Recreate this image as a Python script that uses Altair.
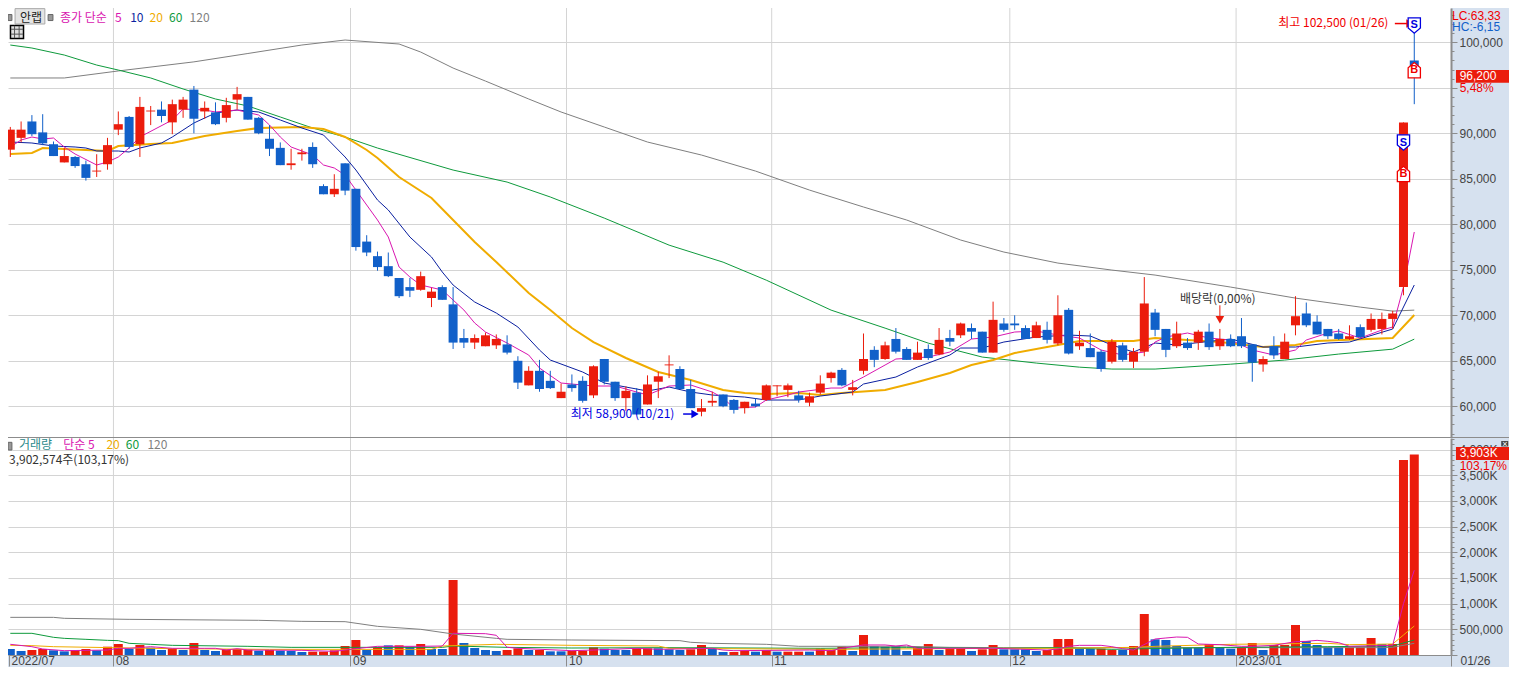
import altair as alt
import pandas as pd

# candles, one per trading day (index 0 = first day of the window)
opens = [88200,89500,91300,90100,88800,86800,87400,86600,85800,86600,
         90400,91800,88800,92400,92600,91200,92600,94800,92400,92300,
         91700,93700,94000,91700,89400,88400,86500,87700,88500,84200,
         83300,86700,83900,78100,76500,75400,74100,73100,72800,71900,
         73100,71200,67500,67000,66600,66700,66800,65000,62300,63900,
         62800,60900,62400,62800,61200,65200,62700,60900,61500,60200,
         62700,64500,64100,61900,59400,60400,61300,60700,59800,60300,
         60700,62200,61800,61200,60400,61500,63100,64000,61800,63900,
         66200,65200,67400,66300,65100,66300,65700,67500,67800,68600,
         68200,65900,69100,69100,68600,67500,68400,66900,70600,66600,
         66400,66000,64900,66700,64900,66000,70300,68500,66600,67000,
         67000,68200,66600,67400,67700,66800,64600,66600,65200,68900,
         70200,69300,68500,68000,67400,68700,68400,68500,69600,73100,
         98000]
closes = [90400,90400,89900,88900,87500,87500,86400,85100,85900,88700,
          91000,88500,92900,92500,91900,93200,93700,91600,92800,91000,
          93100,94300,91500,90000,88300,86500,86700,87900,86600,83300,
          83900,83700,77500,76900,75300,74300,72100,72700,74300,72600,
          71700,67000,67000,67500,67800,67400,65900,62600,63900,61900,
          62000,61600,62000,60600,64400,62700,60900,61700,59100,62400,
          63300,64600,61900,59800,59800,60600,60000,59600,60500,60000,
          62300,62300,62300,60700,61100,62500,63700,62300,62100,65200,
          65100,66700,66000,65100,65900,65300,67300,67100,69100,68200,
          65900,69500,68400,68900,67400,68900,67300,70000,65800,67000,
          65400,64100,67100,65100,66000,71300,68400,66200,68000,66400,
          68200,66500,67400,66600,66600,64800,65200,65600,67100,69900,
          68900,67900,67700,67400,67700,67600,69600,69600,70200,91200,
          96200]
highs = [90700,91300,92000,92100,89100,88400,87500,87000,87700,89500,
         92400,91900,94000,93000,93500,93700,94000,95200,93500,93400,
         93900,95100,94000,91800,90900,89000,88300,88300,89000,84400,
         85500,86700,83900,78800,77000,76900,74100,74100,74800,73000,
         73300,73100,68500,67900,68100,67900,67800,65500,64400,65100,
         63900,62500,63500,63300,64500,65200,62700,62200,62000,63400,
         63800,65600,64400,62900,60800,61600,61300,60800,60500,60900,
         62400,62300,62500,61700,61500,63400,63800,64200,62900,68000,
         66600,67100,68600,66500,67100,66800,68600,68400,69200,69100,
         68200,71500,69700,70000,68900,69300,69300,72200,70800,68300,
         68000,66200,67400,67000,66400,74200,70700,68500,69300,67500,
         68400,69100,68500,67900,69700,66800,65500,67700,68000,72100,
         71400,70000,68500,68500,68900,69000,70200,70300,70500,91200,
         102500]
lows = [87400,89000,89700,88700,87500,86800,86200,84800,85200,86000,
        89800,88300,87400,90900,91200,89900,91700,90000,91600,90900,
        91200,92600,91500,89900,87500,86500,86000,87000,86200,83300,
        83000,83200,77100,76500,74900,74200,71900,72000,72700,70900,
        71700,66300,66400,66300,66600,66300,65700,61900,62300,61600,
        61900,60900,61600,60400,60900,62400,60600,59500,59100,60200,
        60900,63100,61900,59800,58900,60000,59900,59200,59200,59900,
        60600,61100,61000,60400,60000,61300,62600,62200,61200,63500,
        64300,65100,65800,65100,65100,65100,65600,66600,67500,67400,
        65900,65900,68200,68400,67400,67500,66900,66700,65700,66200,
        65400,63800,64700,64900,64200,65500,67700,65400,66400,66200,
        66200,66200,66200,66500,66400,62700,63800,65200,65200,67800,
        68700,67900,67400,67300,67300,67500,68200,67900,68500,72200,
        93200]

# volume in thousands of shares
volumes = [117,78,97,117,91,71,97,117,91,162,214,123,195,143,97,123,97,234,97,78,
           110,117,104,84,97,84,78,58,65,65,91,175,292,97,149,188,188,162,214,117,
           117,1460,234,136,97,78,97,130,97,97,71,71,84,84,149,123,97,97,130,130,
           130,110,97,110,195,130,58,58,84,65,97,65,65,65,65,123,97,162,78,389,
           175,162,175,78,149,214,97,130,130,78,110,195,110,110,110,78,97,311,311,123,
           123,123,97,97,175,798,305,292,175,143,143,214,143,123,149,234,97,195,195,584,
           272,195,149,149,149,149,331,214,214,3795,3903]
vol_dirs = list("BBRRBBRRBR" "RBRBBRBRBB" "RRRBRBBBRR" "RRRBRBRBRB" "BRBBBBRRBR"
                "BBRRRBBBRR" "BBBRRBBRRB" "RBRRBRRRBR" "BBBBRRBRRB" "RRBBBBRRRB"
                "BRRBRRBBBB" "BRBBRRBRRR" "BBBBRRRBRR" "R")

# moving averages (index, price)
ma5_i = [0,1,2,3,4,5,6,8,9,10,11,12,15,16,18,19,21,23,24,25,26,28,29,30,31,32,33,34,35,36,37,38,40,42,43,44,46,48,49,51,54,56,58,59,61,63,65,66,67,69,70,72,73,76,77,79,81,82,85,87,89,91,93,95,97,99,101,103,105,106,107,109,111,113,115,117,119,120,122,123,125,127,128,129,130]
ma5_v = [88494,89263,89593,89373,89483,88494,87725,86516,86845,87395,88384,89593,91461,92670,92560,92340,92560,92010,90911,89593,88494,87614,86516,86186,85417,83768,82119,80471,78603,75306,74207,73328,72778,70580,69151,68162,66953,65635,64206,62557,62228,62228,61568,61238,62228,62338,61568,60909,59810,59920,60689,61238,61568,62008,62008,63216,64535,65195,65414,65964,67393,67612,68162,68272,67832,67503,66184,65635,65964,67063,67612,68052,67503,67283,66184,65635,66184,67283,68052,68272,67503,68382,68712,73108,79152]
ma10_i = [0,2,4,6,7,8,10,11,12,14,15,17,19,21,23,25,27,29,31,32,34,35,37,39,40,41,43,45,47,49,50,53,55,57,59,61,63,65,68,70,73,75,78,79,82,84,87,88,90,92,95,98,100,102,104,106,108,113,116,119,122,124,128,130]
ma10_v = [89043,88933,88604,88494,88384,88054,88054,87944,88384,88933,89593,91131,92230,92560,92340,91461,90582,89812,87395,85966,82669,81570,78603,76405,74756,73327,71459,70250,68712,66184,65085,63766,62557,62118,61678,62118,61568,61238,61018,60689,60689,61128,61568,62447,63216,64316,65635,66404,66404,67063,67612,67832,67723,66734,65964,66954,66734,67393,66514,66514,66954,67063,68492,73327]
ma20_i = [0,2,3,5,7,9,10,13,15,18,21,23,27,29,31,33,34,36,39,41,43,45,48,50,52,54,57,60,63,66,68,70,73,75,77,81,84,87,89,91,93,96,99,101,104,106,112,116,119,121,128,130]
ma20_v = [87725,87834,88384,88274,88164,88054,88604,88824,88934,89703,90252,90582,90692,90472,89593,88165,87285,85196,82889,80471,78053,75855,72448,70580,68602,67063,65305,63766,62887,61788,61458,61348,61458,61238,61458,61788,62667,63656,64535,65085,65854,66514,67173,67173,67173,67503,67063,66514,66734,67173,67503,70030]
ma60_i = [0,2,5,8,10,13,16,19,22,25,28,31,34,41,46,50,55,61,66,70,76,81,85,90,95,99,102,106,113,118,123,128,130]
ma60_v = [99700,99370,98600,97500,96950,96080,94870,93770,93000,91790,90580,89590,88380,85960,84640,83000,80680,77710,75840,73860,70570,68590,66940,65410,64750,64300,64090,64090,64630,65080,65740,66280,67380]
ma120_i = [0,5,10,17,22,27,31,36,38,41,44,48,51,55,59,64,69,74,79,83,88,92,97,102,106,113,119,125,128,130]
ma120_v = [96077,96080,96850,97850,98770,99700,100250,99810,98930,97170,95740,93770,92340,90690,89040,87610,85850,83760,81900,80470,78270,76950,75740,74970,74420,73100,71890,70900,70460,70570]

# volume averages (index, thousands)
v5_i = [0,2,3,5,9,10,11,13,15,18,19,20,21,22,27,30,31,32,34,38,40,41,44,45,46,47,52,54,58,60,65,66,67,74,76,77,79,81,82,83,84,85,91,96,97,98,99,101,102,103,104,106,107,108,109,110,112,114,115,117,119,120,121,122,123,124,128,129,130]
v5_v = [208,162,117,84,97,130,130,162,130,130,130,97,123,97,91,71,97,123,169,169,175,422,415,383,150,130,84,97,130,110,130,97,84,97,84,130,195,195,175,195,130,130,130,97,117,169,188,188,162,123,97,311,331,350,344,214,201,169,169,188,260,266,285,266,240,169,188,1000,1650]
v20_i = [0,2,4,15,24,39,40,45,52,60,61,76,92,97,104,106,113,122,124,128,129,130]
v20_v = [188,182,162,123,110,110,175,208,188,175,130,110,130,130,149,169,208,227,201,214,389,564]
v60_i = [0,2,4,5,7,9,10,11,13,15,22,26,40,41,46,52,61,75,83,92,97,102,107,113,122,128,130]
v60_v = [422,422,344,324,305,285,279,227,208,188,169,149,149,175,149,136,143,130,143,130,143,110,130,149,162,175,292]
v120_i = [0,4,5,11,23,27,31,34,38,41,45,46,52,62,63,65,70,73,83,87,92,127,128,130]
v120_v = [733,733,714,694,675,655,649,558,500,409,324,305,292,279,247,227,208,169,169,149,143,143,150,227]

# axes
x_left = -0.213
x_right = 133.4
month_ticks = [-0.12, 9.55, 31.5, 51.5, 70.5, 92.55, 113.5, x_right]
month_labels = ["2022/07", "08", "09", "10", "11", "12", "2023/01", "01/26"]
price_ticks = list(range(57000, 104000, 1000))
vol_ticks = list(range(0, 4300, 100))

# texts on the price panel
top_text = ["안랩", "종가 단순", "5", "10", "20", "60", "120",
            "최고 102,500 (01/26)", "최저 58,900 (10/21)", "배당락(0,00%)"]
top_i = [0.9, 4.6, 9.7, 11.1, 12.9, 14.7, 16.6, 117.4, 51.9, 108.3]
top_val = [102720, 102720, 102720, 102720, 102720, 102720, 102720, 102120, 59150, 71789]
top_color = ["#222222", "#D916B0", "#D916B0", "#0A1FA0", "#F0AC00", "#0E9A3C", "#7F7F7F",
             "#F00000", "#0000E0", "#333333"]
side_text = ["LC:63,33", "HC:-6,15", "96,200", "5,48%"]
side_i = [133.5, 133.5, 134.2, 134.2]
side_val = [102890, 101680, 96297, 94978]
side_color = ["#F00000", "#1160C9", "#FFFFFF", "#F00000"]

# texts on the volume panel
low_text = ["거래량", "단순 5", "20", "60", "120", "3,902,574주(103,17%)"]
low_i = [0.8, 4.9, 8.9, 10.7, 12.7, -0.12]
low_val = [4080, 4080, 4080, 4080, 4080, 3790]
low_color = ["#2A8A8A", "#D916B0", "#F0AC00", "#0E9A3C", "#7F7F7F", "#333333"]
low_side_text = ["3,903K", "103,17%"]
low_side_i = [134.2, 134.2]
low_side_val = [3932, 3679]
low_side_color = ["#FFFFFF", "#F00000"]

RED = "#EB1C0C"
BLUE = "#1160C9"
GRID = "#D4D4D4"
FRAME = "#8C8C8C"
STRIP = "#D6E1EF"
LABEL = "#444444"
KR = "Noto Sans CJK KR"
NUM = "Liberation Sans"

candles = pd.DataFrame({"i": range(len(opens)), "o": opens, "c": closes, "h": highs, "l": lows})
candles["color"] = [RED if c >= o else BLUE for o, c in zip(opens, closes)]
vols = pd.DataFrame({"i": range(len(volumes)), "v": volumes,
                     "color": [RED if d == "R" else BLUE for d in vol_dirs]})
months = pd.DataFrame({"i": month_ticks[1:-1]})

x_scale = alt.Scale(domain=[x_left, x_right], nice=False, zero=False, padding=0)
y_price = alt.Scale(domain=[56626, 103769], range=[429, 0], nice=False, zero=False)
y_vol = alt.Scale(domain=[0, 4224], range=[647, 430], nice=False, zero=True)

x_axis = alt.Axis(
    values=month_ticks, grid=False, domain=True, domainColor=FRAME, title=None,
    tickColor=FRAME, tickSize=11, labelPadding=-11, labelAlign="left", labelBaseline="top",
    labelFont=NUM, labelFontSize=12, labelColor=LABEL, labelFlush=False, labelBound=False,
    labelOverlap=False,
    labelOffset={"condition": {"test": f"datum.value === {x_right}", "value": 9}, "value": 2},
    labelExpr=f"{month_labels}[indexof({month_ticks}, datum.value)]",
)
price_axis = alt.Axis(
    orient="right", values=price_ticks, title=None, grid=True, gridColor=GRID,
    gridOpacity={"condition": {"test": "datum.value % 5000 === 0", "value": 1}, "value": 0},
    tickColor=FRAME, tickSize={"condition": {"test": "datum.value % 5000 === 0", "value": 6}, "value": 3},
    domainColor=FRAME, domainWidth=2, labelPadding=2, labelFont=NUM, labelFontSize=12,
    labelColor=LABEL, labelOverlap=False, labelBound=False, labelFlush=False,
    labelExpr="datum.value % 5000 === 0 && datum.value !== 95000 ? format(datum.value, ',') : ''",
)
vol_axis = alt.Axis(
    orient="right", values=vol_ticks, title=None, grid=True, gridColor=GRID,
    gridOpacity={"condition": {"test": "datum.value % 500 === 0", "value": 1}, "value": 0},
    tickColor=FRAME, tickSize={"condition": {"test": "datum.value % 500 === 0", "value": 6}, "value": 3},
    domainColor=FRAME, domainWidth=2, labelPadding=2, labelFont=NUM, labelFontSize=12,
    labelColor=LABEL, labelOverlap=False, labelBound=False, labelFlush=False,
    labelExpr="datum.value % 500 !== 0 || datum.value === 0 ? '' : datum.value < 1000 ? format(datum.value * 1000, ',') : format(datum.value, ',') + 'K'",
)

X = alt.X("i:Q", scale=x_scale, axis=x_axis)
Y_P = alt.Y("v:Q", scale=y_price, axis=price_axis)
Y_V = alt.Y("v:Q", scale=y_vol, axis=vol_axis)
IDENT = alt.Color("color:N", scale=None)


def ma_line(idx, vals, color, width, y):
    frame = pd.DataFrame({"i": idx, "v": vals})
    return alt.Chart(frame).mark_line(color=color, strokeWidth=width, clip=True).encode(x=X, y=y)


def text_layer(words, idx, vals, colors, y, font=KR, size=12, align="left"):
    frame = pd.DataFrame({"i": idx, "v": vals, "t": words, "color": colors})
    return alt.Chart(frame).mark_text(font=font, fontSize=size, align=align, baseline="middle").encode(
        x=X, y=y, text="t:N", color=IDENT)


def box(i1, i2, v1, v2, y, fill, stroke=None):
    frame = pd.DataFrame({"i": [i1], "i2": [i2], "v": [v1], "v2": [v2]})
    opts = {"fill": fill}
    if stroke:
        opts.update(stroke=stroke, strokeWidth=1)
    return alt.Chart(frame).mark_rect(**opts).encode(x=X, x2="i2:Q", y=y, y2="v2:Q")


def arrow(i1, i2, v, tip, color, shape):
    stem = alt.Chart(pd.DataFrame({"i": [i1], "i2": [i2], "v": [v]})).mark_rule(color=color, strokeWidth=1.5).encode(
        x=X, x2="i2:Q", y=Y_P)
    head = alt.Chart(pd.DataFrame({"i": [tip], "v": [v]})).mark_point(
        shape=shape, size=70, filled=True, color=color, opacity=1).encode(x=X, y=Y_P)
    return [stem, head]


def marker(i, v, letter, color, up):
    path = "M-1,1.25 L1,1.25 L1,-0.4 L0,-1.25 L-1,-0.4 Z" if up else "M-1,-1.25 L1,-1.25 L1,0.4 L0,1.25 L-1,0.4 Z"
    frame = pd.DataFrame({"i": [i], "v": [v], "t": [letter]})
    mark = alt.Chart(frame).mark_point(shape=path, size=150, fill="white", stroke=color, strokeWidth=1.3,
                                       filled=False, fillOpacity=1, opacity=1).encode(x=X, y=Y_P)
    word = alt.Chart(frame).mark_text(font=NUM, fontSize=11, fontWeight="bold", color=color, baseline="middle").encode(
        x=X, y=Y_P, text="t:N")
    return [mark, word]


# price panel
month_lines = alt.Chart(months).mark_rule(color=GRID, strokeWidth=1).encode(
    x=X, y=alt.value(0), y2=alt.value(647))
wicks = alt.Chart(candles).mark_rule(strokeWidth=1, clip=True).encode(
    x=X, y=alt.Y("l:Q", scale=y_price, axis=price_axis), y2="h:Q", color=IDENT)
bodies = alt.Chart(candles).mark_bar(size=9, clip=True).encode(
    x=X, y=alt.Y("o:Q", scale=y_price, axis=price_axis), y2="c:Q", color=IDENT)

icon = pd.DataFrame({"i": [0.62], "v": [101132]})
icon_back = alt.Chart(icon).mark_point(shape="square", size=170, fill="#E0E0E0", stroke="#000000", strokeWidth=1.5,
                                       filled=False, fillOpacity=1, opacity=1).encode(x=X, y=Y_P)
icon_grid = alt.Chart(icon).mark_point(shape="M-0.4,-1 L-0.4,1 M0.35,-1 L0.35,1 M-1,-0.45 L1,-0.45 M-1,0.35 L1,0.35",
                                       size=150, stroke="#555555", strokeWidth=1, filled=False, opacity=1).encode(x=X, y=Y_P)

price_layers = [
    month_lines,
    ma_line(ma120_i, ma120_v, "#7F7F7F", 1, Y_P),
    ma_line(ma60_i, ma60_v, "#0E9A3C", 1, Y_P),
    ma_line(ma20_i, ma20_v, "#F0AC00", 2, Y_P),
    ma_line(ma10_i, ma10_v, "#0A1FA0", 1, Y_P),
    ma_line(ma5_i, ma5_v, "#D916B0", 1, Y_P),
    wicks,
    bodies,
    box(0.44, 3.2, 103700, 102010, Y_P, "#E4E4E4", "#AAAAAA"),
    box(-0.2, 0.15, 103050, 102390, Y_P, "#999999", "#666666"),
    box(3.5, 3.95, 103050, 102390, Y_P, "#999999", "#666666"),
    icon_back,
    icon_grid,
    box(133.86, 138.95, 96956, 95560, Y_P, RED),
    text_layer(top_text, top_i, top_val, top_color, Y_P),
    text_layer(side_text, side_i, side_val, side_color, Y_P, font=NUM),
    *arrow(128.2, 129.4, 102060, 129.6, "#F00000", "triangle-right"),
    *arrow(62.3, 63.6, 59150, 63.4, "#0000E0", "triangle-right"),
    alt.Chart(pd.DataFrame({"i": [112], "v": [71100], "v2": [69700]})).mark_rule(color=RED, strokeWidth=1).encode(
        x=X, y=Y_P, y2="v2:Q"),
    alt.Chart(pd.DataFrame({"i": [112], "v": [69500]})).mark_point(
        shape="triangle-down", size=75, filled=True, color=RED, opacity=1).encode(x=X, y=Y_P),
    *marker(130, 101846, "S", "#0000E0", False),
    *marker(130, 96934, "B", "#F00000", True),
    *marker(129, 88988, "S", "#0000E0", False),
    *marker(129, 85527, "B", "#F00000", True),
]

# volume panel
vol_bars = alt.Chart(vols).mark_bar(size=9, clip=True).encode(x=X, y=Y_V, color=IDENT)

divider = alt.Chart(vols.head(1)).mark_rule(color=FRAME, strokeWidth=1).encode(
    x=alt.value(0), x2=alt.value(1501), y=alt.value(429.5))

volume_layers = [
    vol_bars,
    ma_line(v120_i, v120_v, "#7F7F7F", 1, Y_V),
    ma_line(v60_i, v60_v, "#0E9A3C", 1, Y_V),
    ma_line(v20_i, v20_v, "#F0AC00", 1, Y_V),
    ma_line(v5_i, v5_v, "#D916B0", 1, Y_V),
    box(-0.2, 0.15, 4140, 3990, Y_V, "#999999", "#666666"),
    box(133.86, 138.95, 4049, 3796, Y_V, RED),
    box(138.05, 138.7, 4165, 4060, Y_V, "#444444"),
    text_layer(low_text, low_i, low_val, low_color, Y_V),
    text_layer(low_side_text, low_side_i, low_side_val, low_side_color, Y_V, font=NUM),
    text_layer(["×"], [138.38], [4110], ["#FFFFFF"], Y_V, font=NUM, size=9, align="center"),
    divider,
]

chart = alt.layer(alt.layer(*price_layers), alt.layer(*volume_layers)).resolve_scale(y="independent").properties(
    width=1443, height=647, background=STRIP,
    padding={"left": 0, "top": 0, "right": 58, "bottom": 12},
    autosize=alt.AutoSizeParams(type="none"),
    view=alt.ViewBackground(fill="white", stroke=None),
)

chart.save("out.html", embed_options={"renderer": "svg", "actions": False})
